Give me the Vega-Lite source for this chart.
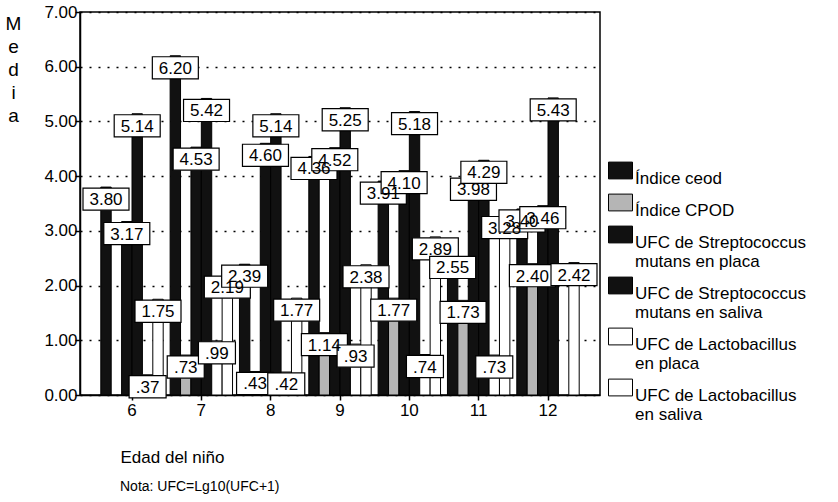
{
  "$schema": "https://vega.github.io/schema/vega-lite/v6.json",
  "width": 520,
  "height": 383,
  "autosize": {"type": "none"},
  "padding": {"left": 80, "top": 12, "right": 238, "bottom": 107},
  "background": "white",
  "config": {
    "font": "Liberation Sans",
    "view": {"stroke": "black", "strokeWidth": 1.5}
  },
  "title": {
    "text": "Nota: UFC=Lg10(UFC+1)",
    "orient": "bottom",
    "anchor": "start",
    "frame": "group",
    "dx": 40,
    "offset": 15,
    "fontSize": 14,
    "fontWeight": "normal",
    "color": "black"
  },
  "data": {
    "values": [
      {"edad": "6", "serie": "Índice ceod", "v": 3.80},
      {"edad": "6", "serie": "UFC de Streptococcus mutans en placa", "v": 3.17},
      {"edad": "6", "serie": "UFC de Streptococcus mutans en saliva", "v": 5.14},
      {"edad": "6", "serie": "UFC de Lactobacillus en placa", "v": 0.37},
      {"edad": "6", "serie": "UFC de Lactobacillus en saliva", "v": 1.75},
      {"edad": "7", "serie": "Índice ceod", "v": 6.20},
      {"edad": "7", "serie": "Índice CPOD", "v": 0.73},
      {"edad": "7", "serie": "UFC de Streptococcus mutans en placa", "v": 4.53},
      {"edad": "7", "serie": "UFC de Streptococcus mutans en saliva", "v": 5.42},
      {"edad": "7", "serie": "UFC de Lactobacillus en placa", "v": 0.99},
      {"edad": "7", "serie": "UFC de Lactobacillus en saliva", "v": 2.19},
      {"edad": "8", "serie": "Índice ceod", "v": 2.39},
      {"edad": "8", "serie": "Índice CPOD", "v": 0.43},
      {"edad": "8", "serie": "UFC de Streptococcus mutans en placa", "v": 4.60},
      {"edad": "8", "serie": "UFC de Streptococcus mutans en saliva", "v": 5.14},
      {"edad": "8", "serie": "UFC de Lactobacillus en placa", "v": 0.42},
      {"edad": "8", "serie": "UFC de Lactobacillus en saliva", "v": 1.77},
      {"edad": "9", "serie": "Índice ceod", "v": 4.36},
      {"edad": "9", "serie": "Índice CPOD", "v": 1.14},
      {"edad": "9", "serie": "UFC de Streptococcus mutans en placa", "v": 4.52},
      {"edad": "9", "serie": "UFC de Streptococcus mutans en saliva", "v": 5.25},
      {"edad": "9", "serie": "UFC de Lactobacillus en placa", "v": 0.93},
      {"edad": "9", "serie": "UFC de Lactobacillus en saliva", "v": 2.38},
      {"edad": "10", "serie": "Índice ceod", "v": 3.91},
      {"edad": "10", "serie": "Índice CPOD", "v": 1.77},
      {"edad": "10", "serie": "UFC de Streptococcus mutans en placa", "v": 4.10},
      {"edad": "10", "serie": "UFC de Streptococcus mutans en saliva", "v": 5.18},
      {"edad": "10", "serie": "UFC de Lactobacillus en placa", "v": 0.74},
      {"edad": "10", "serie": "UFC de Lactobacillus en saliva", "v": 2.89},
      {"edad": "11", "serie": "Índice ceod", "v": 2.55},
      {"edad": "11", "serie": "Índice CPOD", "v": 1.73},
      {"edad": "11", "serie": "UFC de Streptococcus mutans en placa", "v": 3.98},
      {"edad": "11", "serie": "UFC de Streptococcus mutans en saliva", "v": 4.29},
      {"edad": "11", "serie": "UFC de Lactobacillus en placa", "v": 0.73},
      {"edad": "11", "serie": "UFC de Lactobacillus en saliva", "v": 3.28},
      {"edad": "12", "serie": "Índice ceod", "v": 3.40},
      {"edad": "12", "serie": "Índice CPOD", "v": 2.40},
      {"edad": "12", "serie": "UFC de Streptococcus mutans en placa", "v": 3.46},
      {"edad": "12", "serie": "UFC de Streptococcus mutans en saliva", "v": 5.43},
      {"edad": "12", "serie": "UFC de Lactobacillus en saliva", "v": 2.42}
    ]
  },
  "transform": [
    {"calculate": "datum.v < 1 ? substring(format(datum.v, '.2f'), 1) : format(datum.v, '.2f')", "as": "etiqueta"}
  ],
  "encoding": {
    "x": {
      "field": "edad",
      "type": "ordinal",
      "sort": ["6", "7", "8", "9", "10", "11", "12"],
      "scale": {"paddingInner": 0.1, "paddingOuter": 0.3},
      "axis": {
        "title": "Edad del niño",
        "titleFontSize": 17,
        "titleFontWeight": "normal",
        "titleColor": "black",
        "titleAnchor": "start",
        "titleAlign": "left",
        "titleX": 40,
        "titleY": 54,
        "titleBaseline": "top",
        "labelAngle": 0,
        "labelFontSize": 17,
        "labelColor": "black",
        "labelPadding": 2,
        "domainColor": "black",
        "domainWidth": 1.5,
        "tickColor": "black",
        "tickSize": 5,
        "tickWidth": 1.5
      }
    },
    "xOffset": {
      "field": "serie",
      "type": "nominal",
      "sort": [
        "Índice ceod",
        "Índice CPOD",
        "UFC de Streptococcus mutans en placa",
        "UFC de Streptococcus mutans en saliva",
        "UFC de Lactobacillus en placa",
        "UFC de Lactobacillus en saliva"
      ]
    }
  },
  "layer": [
    {
      "mark": {"type": "bar", "stroke": "black", "strokeWidth": 1},
      "encoding": {
        "y": {
          "field": "v",
          "type": "quantitative",
          "scale": {"domain": [0, 7], "nice": false},
          "axis": {
            "values": [0, 1, 2, 3, 4, 5, 6, 7],
            "format": ".2f",
            "title": ["M", "e", "d", "i", "a"],
            "titleAngle": 0,
            "titleFontSize": 19,
            "titleFontWeight": "normal",
            "titleColor": "black",
            "titleLineHeight": 23,
            "titleAlign": "center",
            "titleBaseline": "top",
            "titleX": -67,
            "titleY": 2,
            "labelFontSize": 17,
            "labelColor": "black",
            "labelPadding": -2,
            "domainColor": "black",
            "domainWidth": 1.5,
            "tickColor": "black",
            "tickSize": 5,
            "tickWidth": 1.5,
            "grid": true,
            "gridColor": "black",
            "gridDash": [2, 7],
            "gridWidth": 1.5
          }
        },
        "color": {
          "field": "serie",
          "type": "nominal",
          "sort": [
            "Índice ceod",
            "Índice CPOD",
            "UFC de Streptococcus mutans en placa",
            "UFC de Streptococcus mutans en saliva",
            "UFC de Lactobacillus en placa",
            "UFC de Lactobacillus en saliva"
          ],
          "scale": {"range": ["#111111", "#b5b5b5", "#111111", "#111111", "#ffffff", "#ffffff"]},
          "legend": {
            "title": null,
            "orient": "none",
            "legendX": 528,
            "legendY": 146,
            "symbolType": "M-1,-0.7H1V0.7H-1Z",
            "symbolSize": 576,
            "symbolStrokeColor": "black",
            "symbolStrokeWidth": 1,
            "labelFontSize": 17,
            "labelColor": "black",
            "labelLimit": 300,
            "labelOffset": 2,
            "labelLineHeight": 21,
            "labelBaseline": "top",
            "rowPadding": 3,
            "labelExpr": "split(replace(replace(datum.label, 'Streptococcus ', 'Streptococcus|'), 'Lactobacillus ', 'Lactobacillus|'), '|')"
          }
        }
      }
    },
    {
      "mark": {
        "type": "point",
        "filled": true,
        "fill": "white",
        "stroke": "black",
        "strokeWidth": 1.2,
        "opacity": 1,
        "yOffset": 12
      },
      "encoding": {
        "y": {"field": "v", "type": "quantitative"},
        "shape": {
          "condition": {"test": "datum.v < 1", "value": "M-1,-0.6H1V0.6H-1Z"},
          "value": "M-1,-0.48H1V0.48H-1Z"
        },
        "size": {
          "condition": {"test": "datum.v < 1", "value": 1369},
          "value": 2116
        }
      }
    },
    {
      "mark": {
        "type": "text",
        "fontSize": 17,
        "color": "black",
        "baseline": "middle",
        "align": "center",
        "yOffset": 13
      },
      "encoding": {
        "y": {"field": "v", "type": "quantitative"},
        "text": {"field": "etiqueta"}
      }
    }
  ]
}
